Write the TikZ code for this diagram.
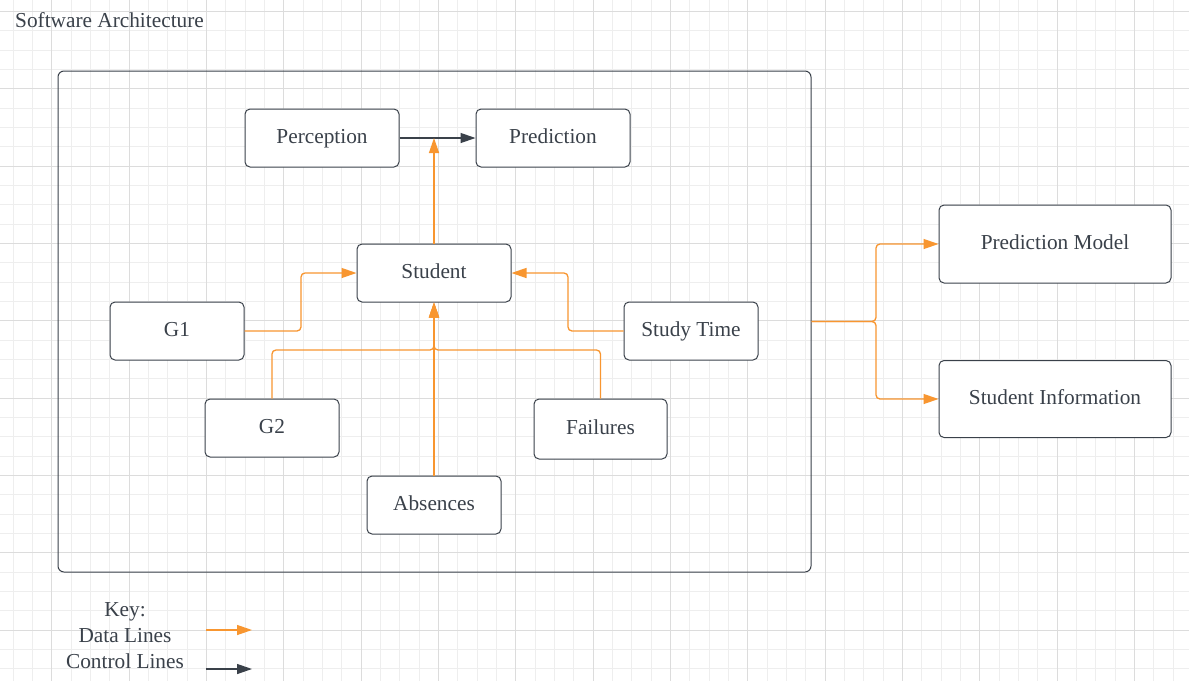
\documentclass[tikz,border=0pt]{standalone}
\usepackage{fontspec}
\setmainfont{Liberation Serif}
\usetikzlibrary{arrows.meta}
\definecolor{ink}{RGB}{58,65,74}
\definecolor{dataor}{RGB}{248,150,48}
\definecolor{gridminor}{RGB}{238,238,238}
\definecolor{gridmajor}{RGB}{220,220,220}
\tikzset{
  box/.style={draw=ink, line width=1pt, rounded corners=5pt, fill=white, text=ink,
    inner sep=0pt, text height=15pt, text depth=5pt, font=\fontsize{21.3}{25}\selectfont},
  lbl/.style={text=ink, inner sep=0pt, font=\fontsize{21.3}{25}\selectfont},
  dataline/.style={draw=dataor, line width=1.3pt, rounded corners=4pt,
    -{Triangle[length=15pt,width=10pt]}},
  ctrlline/.style={draw=ink, line width=1.3pt,
    -{Triangle[length=15pt,width=10pt]}}
}
\begin{document}
\begin{tikzpicture}[x=1pt,y=-1pt]
\useasboundingbox (0,0) rectangle (1189,681);
\fill[white] (0,0) rectangle (1189,681);
% grid
\foreach \i in {0,...,61} {
  \pgfmathsetmacro{\xx}{13.0+\i*19.333}
  \draw[gridminor, line width=0.8pt] (\xx,0) -- (\xx,681);
}
\foreach \i in {0,...,35} {
  \pgfmathsetmacro{\yy}{11.4+\i*19.333}
  \draw[gridminor, line width=0.8pt] (0,\yy) -- (1189,\yy);
}
\foreach \i in {0,...,15} {
  \pgfmathsetmacro{\xx}{-25.6+\i*77.333}
  \draw[gridmajor, line width=1pt] (\xx,0) -- (\xx,681);
}
\foreach \i in {0,...,8} {
  \pgfmathsetmacro{\yy}{11.4+\i*77.333}
  \draw[gridmajor, line width=1pt] (0,\yy) -- (1189,\yy);
}
% title
\node[lbl, anchor=base west] (title) at (15,27) {Software Architecture};
% container
\node[box, fill=none, rounded corners=6pt, minimum width=753pt, minimum height=501pt] (sys) at (434.5,321.5) {};
% nodes
\node[box, minimum width=154pt, minimum height=58pt] (perc) at (322,138) {Perception};
\node[box, minimum width=154pt, minimum height=58pt] (pred) at (553,138) {Prediction};
\node[box, minimum width=154pt, minimum height=58pt] (stud) at (434,273) {Student};
\node[box, minimum width=134pt, minimum height=58pt] (g1) at (177,331) {G1};
\node[box, minimum width=134pt, minimum height=58pt] (study) at (691,331) {Study Time};
\node[box, minimum width=134pt, minimum height=58pt] (g2) at (272,428) {G2};
\node[box, minimum width=133pt, minimum height=60pt] (fail) at (600.5,429) {Failures};
\node[box, minimum width=134pt, minimum height=58pt] (abs) at (434,505) {Absences};
\node[box, minimum width=232pt, minimum height=78pt] (pmodel) at (1055,244) {Prediction Model};
\node[box, minimum width=232pt, minimum height=77pt] (sinfo) at (1055,399) {Student Information};
% connectors
\draw[ctrlline] (perc.east) -- (pred.west);
\coordinate (pp) at (434,138);
\draw[dataline] (stud.north) -- (pp);
\draw[dataline] (g1.east) -- (301,331) -- (301,273) -- (stud.west);
\draw[dataline] (study.west) -- (568,331) -- (568,273) -- (stud.east);
\draw[dataline] (g2.north) -- (272,350) -- (434,350) -- (stud.south);
\draw[dataline] (fail.north) -- (600.5,350) -- (434,350) -- (stud.south);
\draw[dataline] (abs.north) -- (stud.south);
\draw[dataline] (sys.east) -- (876,321.5) -- (876,244) -- (pmodel.west);
\draw[dataline] (sys.east) -- (876,321.5) -- (876,399) -- (sinfo.west);
% key
\node[lbl, anchor=base] (key) at (125,616) {Key:};
\node[lbl, anchor=base] (kdata) at (125,642) {Data Lines};
\node[lbl, anchor=base] (kctrl) at (125,668) {Control Lines};
\coordinate (kd1) at (206,630);
\coordinate (kd2) at (252,630);
\coordinate (kc1) at (206,669);
\coordinate (kc2) at (252,669);
\draw[dataline] (kd1) -- (kd2);
\draw[ctrlline] (kc1) -- (kc2);
\end{tikzpicture}
\end{document}
